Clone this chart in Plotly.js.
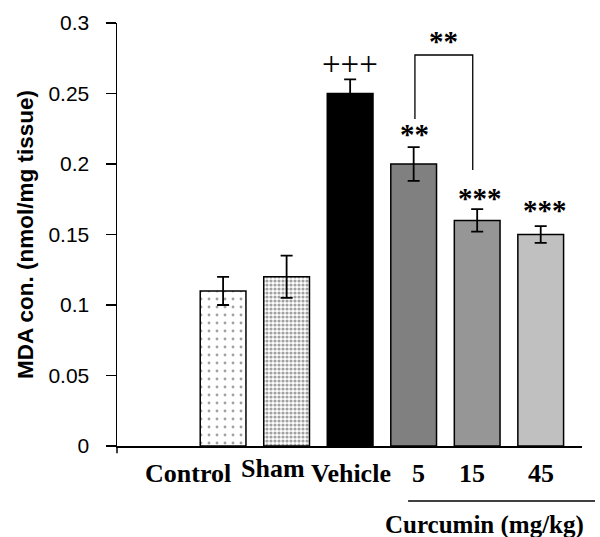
<!DOCTYPE html>
<html><head><meta charset="utf-8">
<script src="https://cdn.plot.ly/plotly-3.0.1.min.js"></script>
<style>html,body{margin:0;padding:0;background:#fff}#chart{width:600px;height:537px}</style>
</head><body><div id="chart"></div>
<script>
const groups = ["Control", "Sham", "Vehicle", "5", "15", "45"];
const mda = [0.11, 0.12, 0.25, 0.20, 0.16, 0.15];
const sem = [0.01, 0.015, 0.01, 0.012, 0.008, 0.006];
const fills = ["#ffffff", "#ffffff", "#000000", "#808080", "#969696", "#c0c0c0"];
const yTicks = [0, 0.05, 0.1, 0.15, 0.2, 0.25, 0.3];
const yTickText = ["0", "0.05", "0.1", "0.15", "0.2", "0.25", "0.3"];
const signif = ["", "", "+++", "**", "***", "***"];
const groupLabel = "Curcumin (mg/kg)";

const xs = groups.map((g, i) => i + 1);
const serif = "Liberation Serif, Times New Roman, serif";
const sans = "Liberation Sans, Arial, sans-serif";

const trace = {
  type: "bar", x: xs, y: mda, width: 0.72,
  marker: {
    color: fills,
    line: {color: "#000", width: 1.5},
    pattern: {
      shape: [".", ".", "", "", "", ""],
      size: [8, 4, 8, 8, 8, 8],
      solidity: [0.1, 0.5, 0.3, 0.3, 0.3, 0.3],
      fgcolor: "#000", bgcolor: "#fff", fillmode: "overlay"
    }
  },
  error_y: {type: "data", array: sem, visible: true, color: "#000", thickness: 1.8, width: 6},
  hoverinfo: "skip"
};

const labelShift = [-35, -14, 1, 5, -5, 0];
const labelYShift = [0, 5, 0, 0, 0, 0];
const annotations = groups.map((g, i) => ({
  x: xs[i], y: -0.064, xref: "x", yref: "paper", text: "<b>" + g + "</b>",
  showarrow: false, xanchor: "center", yanchor: "middle",
  xshift: labelShift[i], yshift: labelYShift[i],
  font: {family: serif, size: 26, color: "#000"}
}));
annotations.push({
  x: 0.79, y: -0.187, xref: "paper", yref: "paper", text: "<b>" + groupLabel + "</b>",
  showarrow: false, xanchor: "center", yanchor: "middle",
  font: {family: serif, size: 25, color: "#000"}
});
// significance marks
const sigPos = [null, null, [3, 0.271], [4.02, 0.2255], [5.05, 0.180], [6.07, 0.1716]];
signif.forEach((s, i) => {
  if (!s) return;
  annotations.push({
    x: sigPos[i][0], y: sigPos[i][1], xref: "x", yref: "y", text: s.includes("+") ? s : "<b>" + s + "</b>",
    showarrow: false, xanchor: "center", yanchor: "middle",
    yshift: s.includes("+") ? 0 : -6,
    font: {family: serif, size: s.includes("+") ? 33 : 29, color: "#000"}
  });
});
annotations.push({
  x: 4.47, y: 0.2915, xref: "x", yref: "y", text: "<b>**</b>",
  showarrow: false, xanchor: "center", yanchor: "middle", yshift: -6,
  font: {family: serif, size: 29, color: "#000"}
});

const shapes = [
  {type: "path", xref: "x", yref: "y", path: "M4.02,0.232 L4.02,0.2773 L4.93,0.2773 L4.93,0.1957",
   line: {color: "#000", width: 1.3}},
  {type: "line", xref: "paper", yref: "y", x0: -0.0215, x1: 0, y0: 0, y1: 0, line: {color: "#000", width: 1.5}},
  {type: "line", xref: "paper", yref: "paper", x0: 0, x1: 0, y0: 0, y1: -0.017, line: {color: "#000", width: 1.5}},
  {type: "line", xref: "paper", yref: "paper", x0: 0.626, x1: 1.028, y0: -0.13, y1: -0.13, line: {color: "#000", width: 1.5}}
];

const layout = {
  width: 600, height: 537,
  margin: {l: 117, r: 18, t: 23, b: 91},
  paper_bgcolor: "#fff", plot_bgcolor: "#fff",
  showlegend: false,
  xaxis: {range: [-0.67, 6.65], showticklabels: false, ticks: "", showgrid: false, zeroline: false,
          showline: true, linecolor: "#000", linewidth: 1.5},
  yaxis: {range: [0, 0.3], tickvals: yTicks, ticktext: yTickText, ticks: "outside", ticklen: 10,
          tickwidth: 1.5, tickcolor: "#000", showgrid: false, zeroline: false,
          showline: true, linecolor: "#000", linewidth: 1.5, ticklabelstandoff: 12,
          tickfont: {family: sans, size: 21, color: "#000"},
          title: {text: "<b>MDA con. (nmol/mg tissue)</b>", font: {family: sans, size: 22.5, color: "#000"}, standoff: 8}},
  annotations: annotations, shapes: shapes
};
Plotly.newPlot("chart", [trace], layout, {staticPlot: true, displayModeBar: false});
</script></body></html>
